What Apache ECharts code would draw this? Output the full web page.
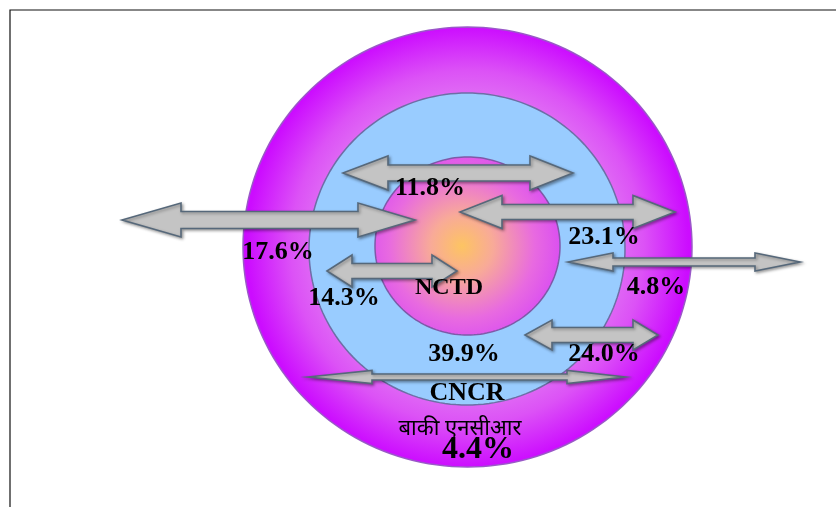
<!DOCTYPE html>
<html>
<head>
<meta charset="utf-8">
<script src="https://cdn.jsdelivr.net/npm/echarts@6/dist/echarts.min.js"></script>
<style>
html,body{margin:0;padding:0;background:#fff;}
#chart{width:836px;height:507px;}
</style>
</head>
<body>
<div id="chart"></div>
<script>
// ---- data ----
const flowShares = [11.8, 17.6, 23.1, 4.8, 14.3, 24.0, 39.9];
const zoneNames = ['NCTD', 'CNCR', 'बाकी एनसीआर'];
const restShare = [4.4];

// ---- layout (pixel-like data space) ----
const ringLayout = [[467.5, 247, 224.5, 220], [467, 249, 158, 156], [467.5, 246, 92.5, 89]];
const arrowLayout = [
  [343, 573, 173, 45, 43, 16, 34],
  [122, 415, 220, 59, 57, 17, 34],
  [460, 675, 212, 42, 42, 15, 33],
  [568, 800, 262, 45, 45, 8, 18],
  [327, 457, 271, 25, 25, 15, 32],
  [525, 658, 335, 27, 25, 15, 30],
  [308, 625, 377, 64, 58, 6, 13]
];
const flowLabelPos = [[430,188],[278,252],[604,237],[656,287],[344,298],[604,354],[464,354]];
const zoneLabelPos = [[449,288],[467,393],[460,431]];
const restLabelPos = [[478,450]];

const ringFills = [
  {type:'radial', x:0.5, y:0.5, r:0.5, colorStops:[
    {offset:0, color:'#eab2f2'}, {offset:0.55, color:'#e48af2'}, {offset:0.8, color:'#dc52f6'}, {offset:1, color:'#cc0cff'}]},
  '#99ccff',
  {type:'radial', x:0.47, y:0.5, r:0.58, colorStops:[
    {offset:0, color:'#fdc462'}, {offset:0.3, color:'#f8aa98'}, {offset:0.7, color:'#e86ae0'}, {offset:1, color:'#d84af4'}]}
];
const ringStrokes = ['#9a58c8', '#6e6ea6', '#7e5aa8'];

function ellipsePoints(api, cx, cy, rx, ry) {
  const pts = [];
  for (let i = 0; i < 180; i++) {
    const a = i / 180 * Math.PI * 2;
    pts.push(api.coord([cx + rx * Math.cos(a), cy + ry * Math.sin(a)]));
  }
  return pts;
}

const serif = "'Liberation Serif','Times New Roman',serif";

const chart = echarts.init(document.getElementById('chart'), null, {renderer:'canvas'});
chart.setOption({
  animation: false,
  backgroundColor: '#ffffff',
  grid: {left:0, right:0, top:0, bottom:0},
  xAxis: {type:'value', min:0, max:836, show:false},
  yAxis: {type:'value', min:0, max:507, inverse:true, show:false},
  series: [
    {
      type:'custom', coordinateSystem:'cartesian2d', z:1,
      data: [[0]],
      renderItem: function(params, api) {
        return {type:'polyline', shape:{points:[api.coord([10,507]), api.coord([10,10]), api.coord([836,10])]},
          style:{stroke:'#111', lineWidth:1.2, fill:null}};
      }
    },
    {
      type:'custom', coordinateSystem:'cartesian2d', z:2,
      data: ringLayout.map((r, i) => [r[0], r[1], r[2], r[3], i]),
      renderItem: function(params, api) {
        const i = params.dataIndex;
        const r = ringLayout[i];
        return {type:'polygon', shape:{points: ellipsePoints(api, r[0], r[1], r[2], r[3])},
          style:{fill: ringFills[i], stroke: ringStrokes[i], lineWidth:1.5}};
      }
    },
    {
      type:'custom', coordinateSystem:'cartesian2d', z:3,
      data: arrowLayout.map((a, i) => [a[0], a[2], flowShares[i]]),
      renderItem: function(params, api) {
        const a = arrowLayout[params.dataIndex];
        const x1=a[0], x2=a[1], y=a[2], h1=a[3], h2=a[4], s=a[5]/2, H=a[6]/2;
        const raw = [[x1,y],[x1+h1,y-H],[x1+h1,y-s],[x2-h2,y-s],[x2-h2,y-H],[x2,y],[x2-h2,y+H],[x2-h2,y+s],[x1+h1,y+s],[x1+h1,y+H]];
        return {type:'polygon', shape:{points: raw.map(p => api.coord(p))},
          style:{fill:'#c4c4c4', stroke:'#56687a', lineWidth:1.6,
            shadowBlur:3, shadowColor:'rgba(0,0,0,0.35)', shadowOffsetX:1.5, shadowOffsetY:1.5}};
      }
    },
    {
      type:'custom', coordinateSystem:'cartesian2d', z:4,
      data: flowShares.map((v, i) => [flowLabelPos[i][0], flowLabelPos[i][1], v]),
      renderItem: function(params, api) {
        const p = api.coord([api.value(0), api.value(1)]);
        return {type:'text', x:p[0], y:p[1], style:{text: api.value(2).toFixed(1) + '%',
          font: 'bold 26px ' + serif, fill:'#000', align:'center', verticalAlign:'middle'}};
      }
    },
    {
      type:'custom', coordinateSystem:'cartesian2d', z:4,
      data: zoneNames.map((n, i) => [zoneLabelPos[i][0], zoneLabelPos[i][1], i]),
      renderItem: function(params, api) {
        const i = params.dataIndex;
        const p = api.coord([api.value(0), api.value(1)]);
        const font = i === 2 ? "22px 'Noto Sans Devanagari','Lohit Devanagari','Noto Sans',sans-serif" : ('bold ' + (i === 0 ? 24 : 26) + 'px ' + serif);
        return {type:'text', x:p[0], y:p[1], style:{text: zoneNames[i], font: font, fill:'#000', align:'center', verticalAlign:'middle'}};
      }
    },
    {
      type:'custom', coordinateSystem:'cartesian2d', z:4,
      data: restShare.map((v, i) => [restLabelPos[i][0], restLabelPos[i][1], v]),
      renderItem: function(params, api) {
        const p = api.coord([api.value(0), api.value(1)]);
        return {type:'text', x:p[0], y:p[1], style:{text: api.value(2).toFixed(1) + '%',
          font: 'bold 32px ' + serif, fill:'#000', align:'center', verticalAlign:'middle'}};
      }
    }
  ]
});
</script>
</body>
</html>
